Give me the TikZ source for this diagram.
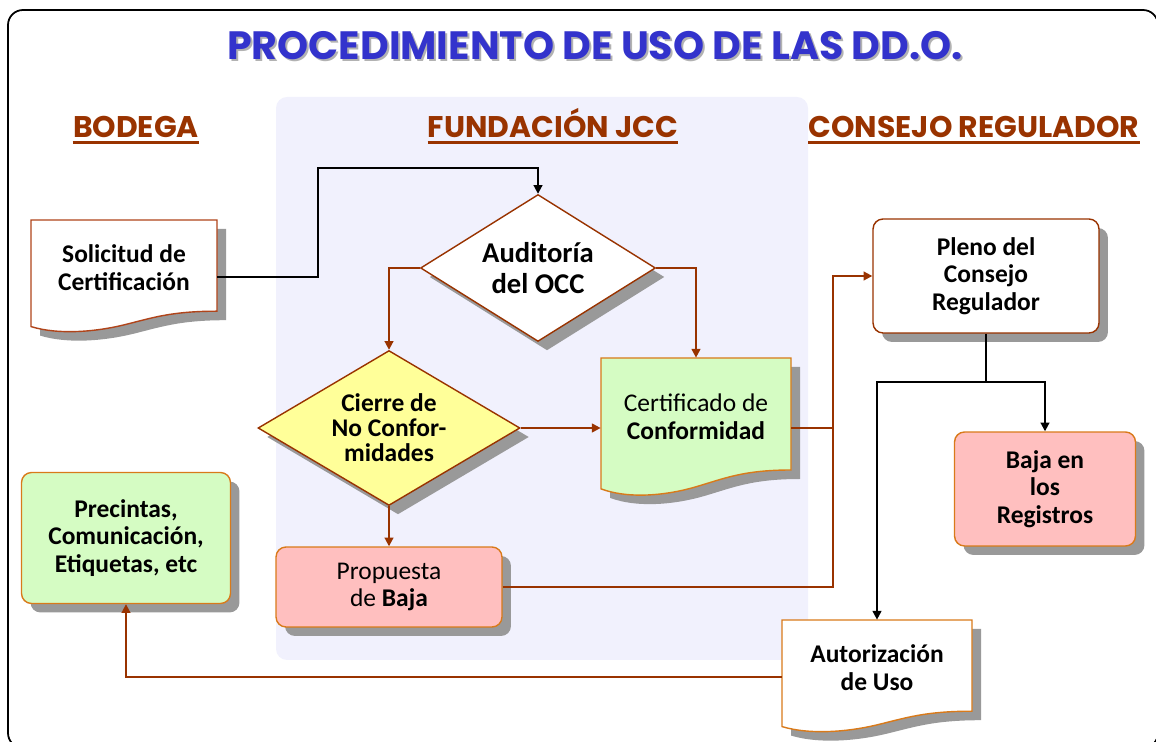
\documentclass[tikz,border=0pt]{standalone}
\usepackage{fontspec}
\setmainfont{Carlito}
\newfontfamily\headfont{Poppins}
\usetikzlibrary{arrows.meta,calc,shapes.geometric,shadows}
\definecolor{brn}{HTML}{993300}
\definecolor{org}{HTML}{D97A1A}
\definecolor{dred}{HTML}{B0441A}
\definecolor{ttlblue}{HTML}{3333CC}
\definecolor{panel}{HTML}{F1F1FD}
\definecolor{lgreen}{HTML}{D5FCC3}
\definecolor{lpink}{HTML}{FFBFBF}
\definecolor{lyel}{HTML}{FFFF99}
\definecolor{shd}{HTML}{999999}
\newcommand{\boxfont}{\fontsize{14.5}{15.7}\selectfont}
\newcommand{\audfont}{\fontsize{16.3}{17.5}\selectfont}
\tikzset{%
  sdw/.style={drop shadow={shadow xshift=0.18cm,shadow yshift=-0.18cm,fill=shd,opacity=1}},
  ttl/.style={font=\headfont\bfseries\fontsize{22.5}{24}\selectfont,text=ttlblue,inner sep=0pt},
  head/.style={font=\headfont\bfseries\fontsize{17}{18}\selectfont,text=brn,inner sep=0pt,anchor=base},
  box/.style={rectangle,rounded corners=0.2cm,draw=org,line width=0.8pt,sdw,align=center,font=\boxfont\bfseries},
  dmd/.style={diamond,draw=brn,line width=0.8pt,aspect=1.6,inner sep=1pt,sdw,align=center,font=\boxfont\bfseries},
  doctext/.style={align=center,font=\boxfont\bfseries,inner sep=0pt},
  cline/.style={draw=brn,line width=1.1pt},
  conn/.style={cline,-{Triangle[length=5pt,width=5pt]}},
  bline/.style={draw=black,line width=1.1pt},
  bconn/.style={bline,-{Triangle[length=5pt,width=5pt]}},
  docp/.style n args={4}{insert path={(#1,#2) -- (#3,#2) -- (#3,{#4-0.2*(#4-#2)})
    .. controls ({#3-0.25*(#3-#1)},{#4-0.2*(#4-#2)}) and ({#3-0.35*(#3-#1)},{#4-0.14*(#4-#2)}) .. ({#3-0.5*(#3-#1)},{#4-0.08*(#4-#2)})
    .. controls ({#3-0.65*(#3-#1)},{#4-0.02*(#4-#2)}) and ({#3-0.85*(#3-#1)},{#4+0.01*(#4-#2)}) .. (#1,{#4-0.065*(#4-#2)}) -- cycle}}
}
% document shape: name, x1, y1, x2, y2, look, text
\newcommand{\docnode}[7]{%
  \fill[shd,shift={(9,9)},docp={#2}{#3}{#4}{#5}];
  \path[line width=0.8pt,#6,docp={#2}{#3}{#4}{#5}];
  \node[inner sep=0pt,minimum width={(#4-#2)*0.02cm},minimum height={(#5-#3)*0.02cm}] (#1) at ({(#2+#4)/2},{(#3+#5)/2}) {};
  \node[doctext] (#1-t) at ($(#1)+(0,{-0.08*(#5-#3)})$) {#7};
}

\begin{document}
\begin{tikzpicture}[x=0.02cm,y=-0.02cm]
  \useasboundingbox (0,0) rectangle (1156,742);
  \draw[line width=1pt,rounded corners=0.3cm] (8,10) rectangle (1158,748);
  \fill[panel,rounded corners=0.22cm] (276,97) rectangle (808,660);
  % titles
  \node[ttl,text=gray!60] (ttl-s) at (597,48) {PROCEDIMIENTO DE USO DE LAS DD.O.};
  \node[ttl] (ttl) at (595,46) {PROCEDIMIENTO DE USO DE LAS DD.O.};
  \node[head] (bod) at (136,138) {BODEGA};
  \node[head] (fun) at (553,138) {FUNDACIÓN JCC};
  \node[head] (con) at (974,138) {CONSEJO REGULADOR};
  \foreach \h in {bod,fun,con}
    \draw[brn,line width=1.3pt] ([yshift=-2.5pt]\h.base west) -- ([yshift=-2.5pt]\h.base east);
  % documents
  \docnode{sol}{31}{220}{217}{334}{fill=white,draw=dred}{Solicitud de\\Certificación}
  \docnode{cert}{601}{358}{791}{498}{fill=lgreen,draw=org}{{\mdseries Certificado de}\\Conformidad}
  \docnode{auto}{782}{620}{972}{734}{fill=white,draw=org}{Autorización\\de Uso}
  % decisions
  \node[dmd,fill=white,minimum width=4.7cm,minimum height=2.94cm,font=\audfont\bfseries] (aud) at (538,268) {Auditoría\\del OCC};
  \node[dmd,fill=lyel,minimum width=5.24cm,minimum height=3.1cm,font=\fontsize{14.5}{14.2}\selectfont\bfseries] (cie) at (389,428) {Cierre de\\No Confor-\\midades};
  % boxes
  \node[box,fill=lpink,minimum width=4.52cm,minimum height=1.6cm,font=\boxfont] (prop) at (389,587) {Propuesta\\de \textbf{Baja}};
  \node[box,fill=lgreen,minimum width=4.18cm,minimum height=2.62cm] (prec) at (126,538) {Precintas,\\Comunicación,\\Etiquetas, etc};
  \node[box,fill=white,draw=brn,minimum width=4.52cm,minimum height=2.28cm] (pleno) at (986,276) {Pleno del\\Consejo\\Regulador};
  \node[box,fill=lpink,minimum width=3.62cm,minimum height=2.28cm] (breg) at (1045,489) {Baja en\\los\\Registros};
  % connectors
  \draw[bconn] (sol.east) -- ++(101,0) |- ($(aud.north)+(0,-26)$) -- (aud.north);
  \draw[conn] (aud.west) -| (cie.north);
  \draw[conn] (aud.east) -| (cert.north);
  \draw[conn] (cie.east) -- (cert.west);
  \draw[conn] (cie.south) -- (prop.north);
  \coordinate (jn) at ($(cert.east)+(42,0)$);
  \draw[conn] (cert.east) -- (jn) |- (pleno.west);
  \draw[cline] (prop.east) -| (jn);
  \coordinate (sp) at ($(pleno.south)+(0,48)$);
  \draw[bline] (pleno.south) -- (sp);
  \draw[bconn] (sp) -| (auto.north);
  \draw[bconn] (sp) -| (breg.north);
  \draw[conn] (auto.west) -| (prec.south);
\end{tikzpicture}
\end{document}
